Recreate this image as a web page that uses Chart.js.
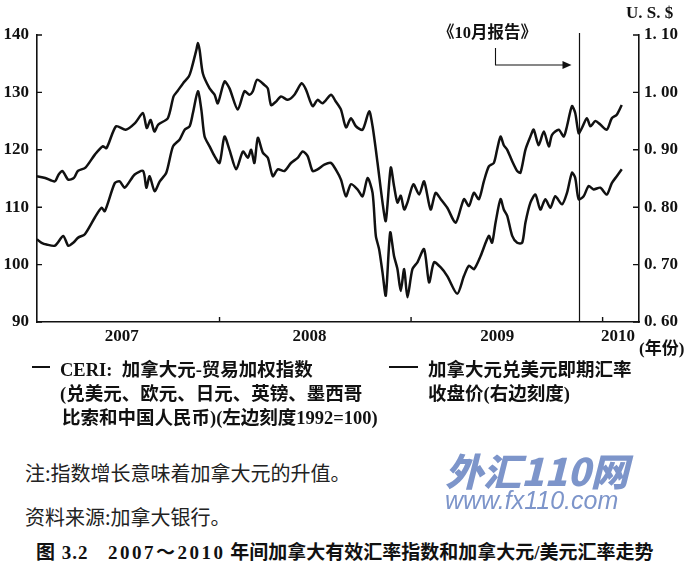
<!DOCTYPE html>
<html lang="zh">
	<head>
		<meta charset="UTF-8" />
		<title>加拿大有效汇率指数和加拿大元/美元汇率</title>
		<script src="https://cdn.jsdelivr.net/npm/chart.js"></script>
		<style>
			html,
			body {
				margin: 0;
				padding: 0;
				background: #fff;
			}
			#page {
				position: relative;
				width: 689px;
				height: 564px;
				overflow: hidden;
				color: #111;
			}
			#plot {
				position: absolute;
				left: 0;
				top: 0;
				width: 689px;
				height: 360px;
			}
			.t {
				position: absolute;
				white-space: nowrap;
				line-height: 24px;
			}
			.lg {
				font: bold 18.5px "Liberation Serif", "Noto Sans CJK SC", serif;
			}
			.note {
				font: 400 20px "Noto Sans CJK SC", sans-serif;
				color: #222;
			}
			.dash {
				position: absolute;
				height: 2px;
				background: #111;
			}
			.wm {
				color: #7d95ca;
				font-style: italic;
				font-weight: 900;
			}
			.cap {
				font: bold 19px "Liberation Serif", "Noto Sans CJK SC", serif;
			}
		</style>
	</head>
	<body>
		<div id="page">
			<div id="plot"><canvas id="myChart"></canvas></div>

			<div class="dash" style="left: 32px; top: 366px; width: 18px"></div>
			<div class="t lg" style="left: 60px; top: 355px">CERI:&nbsp; 加拿大元-贸易加权指数</div>
			<div class="t lg" style="left: 60px; top: 379px">(兑美元、欧元、日元、英镑、墨西哥</div>
			<div class="t lg" style="left: 62px; top: 403px">比索和中国人民币)(左边刻度1992=100)</div>

			<div class="dash" style="left: 389px; top: 366px; width: 29px"></div>
			<div class="t lg" style="left: 428px; top: 355px">加拿大元兑美元即期汇率</div>
			<div class="t lg" style="left: 428px; top: 379px">收盘价(右边刻度)</div>

			<div class="t note" style="left: 25px; top: 458px">注:指数增长意味着加拿大元的升值。</div>
			<div class="t note" style="left: 25px; top: 502px">资料来源:加拿大银行。</div>

			<div class="t wm" style="left: 445px; top: 449px; font-size: 38px; line-height: 42px; font-family: 'Noto Sans CJK SC', sans-serif">外汇110网</div>
			<div class="t wm" style="left: 445px; top: 486px; font-size: 25px; line-height: 28px; font-weight: normal; font-family: 'Liberation Sans', sans-serif">www.fx110.com</div>

			<div class="t cap" style="left: 36px; top: 537px; letter-spacing: 1px">图 3.2</div>
			<div class="t cap" style="left: 108px; top: 537px"><span style="letter-spacing: 2.5px">2007～2010</span> 年间加拿大有效汇率指数和加拿大元/美元汇率走势</div>
		</div>

		<script>
			// CAD/USD spot close (right scale), dates as decimal years
			var usdYears = [
				2007.047, 2007.09, 2007.14, 2007.16, 2007.18, 2007.21, 2007.24, 2007.26, 2007.3, 2007.35,
				2007.39, 2007.41, 2007.46, 2007.51, 2007.56, 2007.6, 2007.62, 2007.64, 2007.66, 2007.68,
				2007.73, 2007.76, 2007.78, 2007.81, 2007.84, 2007.852, 2007.879, 2007.887, 2007.896, 2007.913,
				2007.948, 2007.974, 2007.991, 2008.026, 2008.052, 2008.095, 2008.13, 2008.156, 2008.174, 2008.196,
				2008.234, 2008.252, 2008.269, 2008.295, 2008.321, 2008.356, 2008.391, 2008.429, 2008.451, 2008.486,
				2008.512, 2008.538, 2008.582, 2008.605, 2008.634, 2008.66, 2008.686, 2008.712, 2008.747, 2008.781,
				2008.799, 2008.825, 2008.851, 2008.868, 2008.894, 2008.911, 2008.929, 2008.946, 2008.964, 2008.981,
				2009.012, 2009.042, 2009.068, 2009.102, 2009.128, 2009.155, 2009.189, 2009.233, 2009.276, 2009.302,
				2009.328, 2009.354, 2009.38, 2009.406, 2009.432, 2009.449, 2009.467, 2009.484, 2009.502, 2009.528,
				2009.554, 2009.571, 2009.597, 2009.623, 2009.64, 2009.666, 2009.693, 2009.719, 2009.736, 2009.771,
				2009.797, 2009.814, 2009.84, 2009.857, 2009.875, 2009.892, 2009.918, 2009.936, 2009.962, 2009.988,
				2010.022, 2010.048, 2010.074, 2010.1,
			];
			var usdRate = [
				0.854, 0.851, 0.845, 0.857, 0.863, 0.848, 0.851, 0.863, 0.869, 0.892,
				0.906, 0.903, 0.941, 0.935, 0.947, 0.964, 0.938, 0.952, 0.932, 0.944,
				0.955, 0.993, 1.002, 1.016, 1.028, 1.039, 1.074, 1.086, 1.074, 1.033,
				1.007, 0.996, 0.981, 1.019, 1.007, 0.97, 1.002, 0.996, 1.002, 1.022,
				1.013, 1.007, 0.978, 0.984, 0.993, 0.987, 0.996, 1.016, 1.005, 0.976,
				0.987, 0.981, 0.996, 0.985, 0.97, 0.939, 0.955, 0.941, 0.935, 0.967,
				0.941, 0.877, 0.808, 0.776, 0.869, 0.837, 0.808, 0.82, 0.796, 0.808,
				0.84, 0.822, 0.845, 0.796, 0.825, 0.814, 0.799, 0.773, 0.814, 0.802,
				0.825, 0.814, 0.845, 0.871, 0.877, 0.9, 0.923, 0.908, 0.9, 0.88,
				0.863, 0.86, 0.9, 0.923, 0.935, 0.908, 0.932, 0.906, 0.926, 0.935,
				0.923, 0.941, 0.976, 0.964, 0.929, 0.938, 0.955, 0.941, 0.95, 0.944,
				0.935, 0.955, 0.961, 0.978,
			];

			// CERI, 1992 = 100 (left scale)
			var ceriYears = [
				2007.047, 2007.071, 2007.097, 2007.141, 2007.184, 2007.21, 2007.236, 2007.262, 2007.297, 2007.349,
				2007.384, 2007.401, 2007.453, 2007.479, 2007.505, 2007.557, 2007.601, 2007.618, 2007.635, 2007.661,
				2007.688, 2007.722, 2007.757, 2007.792, 2007.818, 2007.844, 2007.861, 2007.887, 2007.905, 2007.922,
				2007.948, 2007.974, 2008.0, 2008.026, 2008.052, 2008.087, 2008.122, 2008.148, 2008.165, 2008.182,
				2008.2, 2008.226, 2008.252, 2008.278, 2008.304, 2008.339, 2008.373, 2008.408, 2008.434, 2008.46,
				2008.486, 2008.512, 2008.547, 2008.582, 2008.608, 2008.634, 2008.66, 2008.686, 2008.72, 2008.747,
				2008.773, 2008.799, 2008.816, 2008.833, 2008.851, 2008.868, 2008.891, 2008.911, 2008.929, 2008.946,
				2008.964, 2008.981, 2009.007, 2009.033, 2009.068, 2009.094, 2009.12, 2009.155, 2009.189, 2009.241,
				2009.276, 2009.302, 2009.328, 2009.363, 2009.406, 2009.423, 2009.441, 2009.467, 2009.484, 2009.502,
				2009.528, 2009.554, 2009.58, 2009.597, 2009.623, 2009.649, 2009.675, 2009.701, 2009.727, 2009.753,
				2009.788, 2009.814, 2009.84, 2009.857, 2009.875, 2009.901, 2009.927, 2009.953, 2009.988, 2010.022,
				2010.048, 2010.074, 2010.1,
			];
			var ceriIndex = [
				104.4, 103.8, 103.5, 103.3, 105.0, 103.3, 103.8, 104.7, 105.3, 108.2,
				109.9, 109.3, 114.2, 114.5, 113.4, 115.7, 116.3, 113.4, 115.4, 112.8,
				114.5, 116.0, 120.6, 121.8, 123.5, 124.1, 126.4, 130.2, 127.0, 122.3,
				120.6, 118.9, 117.7, 122.3, 120.0, 116.6, 119.7, 118.6, 120.0, 117.7,
				122.1, 119.5, 118.6, 115.4, 116.6, 116.3, 117.7, 118.6, 119.7, 118.9,
				116.3, 116.6, 117.4, 117.7, 116.5, 114.8, 111.9, 114.0, 113.1, 111.9,
				115.1, 112.5, 105.0, 102.7, 98.6, 94.6, 105.6, 101.5, 99.2, 95.4,
				99.2, 94.3, 99.2, 100.4, 102.7, 96.9, 100.4, 99.5, 98.0, 94.9,
				98.0, 99.8, 99.2, 101.5, 105.0, 103.8, 107.3, 111.4, 109.6, 108.5,
				105.0, 103.8, 103.8, 107.3, 110.8, 112.2, 109.6, 111.4, 109.9, 111.9,
				110.5, 112.5, 116.0, 115.1, 111.4, 111.9, 113.7, 113.1, 113.4, 112.2,
				114.2, 115.4, 116.6,
			];

			var leftTicks = [90, 100, 110, 120, 130, 140];
			var rightTicks = [0.6, 0.7, 0.8, 0.9, 1.0, 1.1];
			var yearLabels = ["2007", "2008", "2009", "2010"];
			var yearLabelAt = [2007.49, 2008.47, 2009.45, 2010.08];
			var yearStarts = [2008, 2009, 2010];
			var reportDate = 2009.875; // 《10月报告》

			var ink = "#111";
			var numFont = { family: "'Liberation Serif', serif", size: 17, weight: "bold" };

			// inner tick marks, report marker and loose labels
			var extras = {
				id: "extras",
				afterDraw: function (chart) {
					var ctx = chart.ctx;
					var a = chart.chartArea;
					var x = chart.scales.x;
					var y = chart.scales.y;
					var y1 = chart.scales.y1;
					ctx.save();
					ctx.strokeStyle = ink;
					ctx.fillStyle = ink;
					ctx.lineWidth = 1.4;
					ctx.beginPath();
					leftTicks.forEach(function (v) {
						var p = y.getPixelForValue(v);
						ctx.moveTo(a.left, p);
						ctx.lineTo(a.left + 5, p);
					});
					rightTicks.forEach(function (v) {
						var p = y1.getPixelForValue(v);
						ctx.moveTo(a.right, p);
						ctx.lineTo(a.right - 6, p);
					});
					yearStarts.forEach(function (v) {
						var p = x.getPixelForValue(v);
						ctx.moveTo(p, a.bottom);
						ctx.lineTo(p, a.bottom - 5);
					});
					ctx.stroke();

					var rx = Math.round(x.getPixelForValue(reportDate)) + 0.5;
					ctx.lineWidth = 1.2;
					ctx.beginPath();
					ctx.moveTo(rx, a.top - 2);
					ctx.lineTo(rx, a.bottom);
					ctx.stroke();

					// arrow pointing at the report line
					ctx.lineWidth = 1.1;
					ctx.beginPath();
					ctx.moveTo(rx - 84, 48);
					ctx.lineTo(rx - 84, 65);
					ctx.lineTo(rx - 14, 65);
					ctx.stroke();
					ctx.beginPath();
					ctx.moveTo(rx - 8, 65);
					ctx.lineTo(rx - 17, 61);
					ctx.lineTo(rx - 17, 69);
					ctx.closePath();
					ctx.fill();

					ctx.textBaseline = "middle";
					ctx.textAlign = "center";
					ctx.font = "bold 16.5px 'Liberation Serif', 'Noto Sans CJK SC'";
					ctx.fillText("《10月报告》", rx - 92, 34);

					ctx.textAlign = "left";
					ctx.font = "bold 17px 'Liberation Serif', serif";
					ctx.fillText("U. S. $", 626, 14);
					ctx.font = "bold 17px 'Liberation Serif', 'Noto Sans CJK SC'";
					ctx.fillText("(年份)", 639, 350);
					ctx.restore();
				},
			};

			var ctx = document.getElementById("myChart").getContext("2d");
			var myChart = new Chart(ctx, {
				type: "line",
				plugins: [extras],
				data: {
					datasets: [
						{
							label: "加拿大元兑美元即期汇率收盘价(右边刻度)",
							data: usdYears.map(function (t, i) {
								return { x: t, y: usdRate[i] };
							}),
							yAxisID: "y1",
							borderColor: ink,
							borderWidth: 2.5,
							pointRadius: 0,
							tension: 0.25,
						},
						{
							label: "CERI: 加拿大元-贸易加权指数",
							data: ceriYears.map(function (t, i) {
								return { x: t, y: ceriIndex[i] };
							}),
							yAxisID: "y",
							borderColor: ink,
							borderWidth: 2.5,
							pointRadius: 0,
							tension: 0.25,
						},
					],
				},
				options: {
					responsive: true,
					maintainAspectRatio: false,
					animation: false,
					layout: { padding: { top: 35, left: 0, right: 0, bottom: 0 } },
					plugins: {
						legend: { display: false },
						tooltip: { enabled: false },
					},
					scales: {
						x: {
							type: "linear",
							min: 2007.047,
							max: 2010.19,
							afterBuildTicks: function (scale) {
								scale.ticks = yearLabelAt.map(function (v) {
									return { value: v };
								});
							},
							afterFit: function (scale) {
								scale.height = 38;
							},
							grid: { display: false, drawTicks: false },
							border: { display: true, color: ink, width: 1.6 },
							ticks: {
								autoSkip: false,
								maxRotation: 0,
								padding: 4,
								color: ink,
								font: numFont,
								callback: function (value, index) {
									return yearLabels[index];
								},
							},
						},
						y: {
							position: "left",
							min: 90,
							max: 140,
							afterBuildTicks: function (scale) {
								scale.ticks = leftTicks.map(function (v) {
									return { value: v };
								});
							},
							afterFit: function (scale) {
								scale.width = 37;
							},
							grid: { display: false, drawTicks: false },
							border: { display: true, color: ink, width: 1.6 },
							ticks: { padding: 8, color: ink, font: numFont },
						},
						y1: {
							position: "right",
							min: 0.6,
							max: 1.1,
							afterBuildTicks: function (scale) {
								scale.ticks = rightTicks.map(function (v) {
									return { value: v };
								});
							},
							afterFit: function (scale) {
								scale.width = 50;
							},
							grid: { display: false, drawTicks: false },
							border: { display: true, color: ink, width: 1.6 },
							ticks: {
								padding: 5,
								color: ink,
								font: numFont,
								callback: function (value) {
									return value.toFixed(2).replace(".", ". ");
								},
							},
						},
					},
				},
			});
		</script>
	</body>
</html>
